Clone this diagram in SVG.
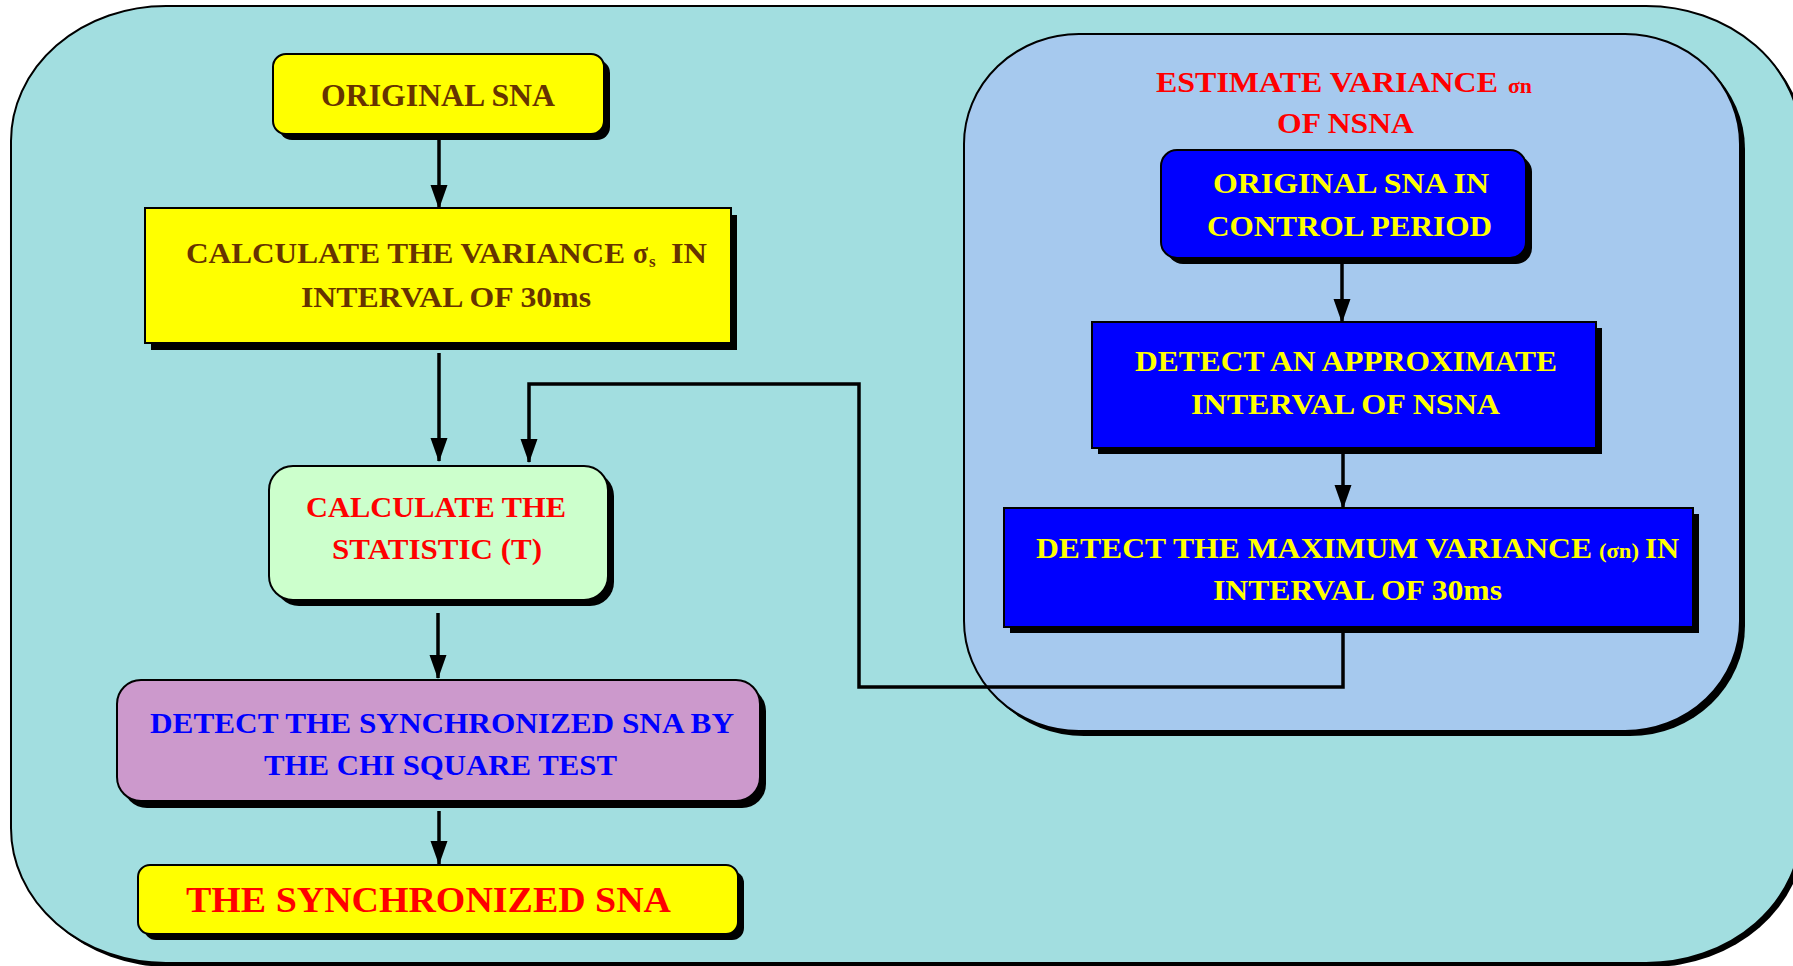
<svg xmlns="http://www.w3.org/2000/svg" width="1793" height="966" viewBox="0 0 1793 966">
<defs>
<style>
.sh{fill:#000}
.bx{stroke:#000;stroke-width:2}
.t{font-family:"Liberation Serif","Times New Roman",serif;font-weight:bold;font-size:30px}
.br{fill:#663300}
.rd{fill:#FF0000}
.bl{fill:#0000FF}
.yl{fill:#FFFF00}
.cn{fill:none;stroke:#000;stroke-width:3.5}
</style>
<marker id="ah" viewBox="0 0 24 18" refX="23" refY="9" markerWidth="24" markerHeight="18" markerUnits="userSpaceOnUse" orient="auto">
<path d="M0,0.5 L24,9 L0,17.5 Z" fill="#000"/>
</marker>
</defs>
<rect width="1793" height="966" fill="#fff"/>
<g id="outer">
<rect x="15" y="10" width="1790" height="957" rx="155" ry="135" class="sh"/>
<rect x="11" y="6" width="1790" height="957" rx="155" ry="135" fill="#A2DEE0" class="bx"/>
</g>
<g id="group-nsna">
<rect x="969" y="39" width="776" height="697" rx="115" ry="110" class="sh"/>
<rect x="964" y="34" width="776" height="697" rx="115" ry="110" fill="#A6C9EE" class="bx"/>
<text class="t rd" x="1156" y="92" textLength="342" lengthAdjust="spacingAndGlyphs">ESTIMATE VARIANCE</text>
<text class="t rd" x="1508" y="93" style="font-size:20px" textLength="24" lengthAdjust="spacingAndGlyphs">σn</text>
<text class="t rd" x="1277" y="133" textLength="137" lengthAdjust="spacingAndGlyphs">OF NSNA</text>
</g>
<g id="connectors">
<line x1="439" y1="140" x2="439" y2="208" class="cn" marker-end="url(#ah)"/>
<line x1="439" y1="353" x2="439" y2="461" class="cn" marker-end="url(#ah)"/>
<line x1="438" y1="613" x2="438" y2="678" class="cn" marker-end="url(#ah)"/>
<line x1="439" y1="811" x2="439" y2="864" class="cn" marker-end="url(#ah)"/>
<line x1="1342" y1="264" x2="1342" y2="322" class="cn" marker-end="url(#ah)"/>
<line x1="1343" y1="454" x2="1343" y2="508" class="cn" marker-end="url(#ah)"/>
<polyline points="1343,633 1343,687 859,687 859,384 529,384 529,462" class="cn" marker-end="url(#ah)"/>
</g>
<g id="n-original-sna">
<rect x="279" y="60" width="331" height="80" rx="13" class="sh"/>
<rect x="273" y="54" width="331" height="80" rx="13" fill="#FFFF00" class="bx"/>
<text class="t br" x="321" y="106" style="font-size:32px" textLength="234" lengthAdjust="spacingAndGlyphs">ORIGINAL SNA</text>
</g>
<g id="n-calc-variance">
<rect x="151" y="215" width="586" height="135" class="sh"/>
<rect x="145" y="208" width="586" height="135" fill="#FFFF00" class="bx"/>
<text class="t br" x="186" y="263" textLength="439" lengthAdjust="spacingAndGlyphs">CALCULATE THE VARIANCE</text>
<text class="t br" x="633" y="263" textLength="15" lengthAdjust="spacingAndGlyphs">σ</text>
<text class="t br" x="649" y="267" style="font-size:17px">s</text>
<text class="t br" x="671" y="263" textLength="36" lengthAdjust="spacingAndGlyphs">IN</text>
<text class="t br" x="301" y="307" textLength="290" lengthAdjust="spacingAndGlyphs">INTERVAL OF 30ms</text>
</g>
<g id="n-statistic">
<rect x="275" y="472" width="339" height="134" rx="24" class="sh"/>
<rect x="269" y="466" width="339" height="134" rx="24" fill="#CCFFCC" class="bx"/>
<text class="t rd" x="306" y="517" textLength="260" lengthAdjust="spacingAndGlyphs">CALCULATE THE</text>
<text class="t rd" x="332" y="559" textLength="210" lengthAdjust="spacingAndGlyphs">STATISTIC (T)</text>
</g>
<g id="n-chi-square">
<rect x="123" y="687" width="643" height="121" rx="24" class="sh"/>
<rect x="117" y="680" width="643" height="121" rx="24" fill="#CC99CC" class="bx"/>
<text class="t bl" x="150" y="733" textLength="584" lengthAdjust="spacingAndGlyphs">DETECT THE SYNCHRONIZED SNA BY</text>
<text class="t bl" x="264" y="775" textLength="353" lengthAdjust="spacingAndGlyphs">THE CHI SQUARE TEST</text>
</g>
<g id="n-synchronized">
<rect x="144" y="871" width="600" height="69" rx="12" class="sh"/>
<rect x="138" y="865" width="600" height="69" rx="12" fill="#FFFF00" class="bx"/>
<text class="t rd" x="186" y="912" style="font-size:36px" textLength="485" lengthAdjust="spacingAndGlyphs">THE SYNCHRONIZED SNA</text>
</g>
<g id="n-control-period">
<rect x="1167" y="156" width="365" height="108" rx="16" class="sh"/>
<rect x="1161" y="150" width="365" height="108" rx="16" fill="#0000FF" class="bx"/>
<text class="t yl" x="1213" y="193" textLength="276" lengthAdjust="spacingAndGlyphs">ORIGINAL SNA IN</text>
<text class="t yl" x="1207" y="236" textLength="285" lengthAdjust="spacingAndGlyphs">CONTROL PERIOD</text>
</g>
<g id="n-approx-interval">
<rect x="1098" y="328" width="504" height="126" class="sh"/>
<rect x="1092" y="322" width="504" height="126" fill="#0000FF" class="bx"/>
<text class="t yl" x="1135" y="371" textLength="422" lengthAdjust="spacingAndGlyphs">DETECT AN APPROXIMATE</text>
<text class="t yl" x="1191" y="414" textLength="309" lengthAdjust="spacingAndGlyphs">INTERVAL OF NSNA</text>
</g>
<g id="n-max-variance">
<rect x="1010" y="514" width="689" height="119" class="sh"/>
<rect x="1004" y="508" width="689" height="119" fill="#0000FF" class="bx"/>
<text class="t yl" x="1036" y="558" textLength="556" lengthAdjust="spacingAndGlyphs">DETECT THE MAXIMUM VARIANCE</text>
<text class="t yl" x="1599" y="558" style="font-size:21px" textLength="40" lengthAdjust="spacingAndGlyphs">(σn)</text>
<text class="t yl" x="1645" y="558" textLength="34" lengthAdjust="spacingAndGlyphs">IN</text>
<text class="t yl" x="1213" y="600" textLength="289" lengthAdjust="spacingAndGlyphs">INTERVAL OF 30ms</text>
</g>
</svg>
